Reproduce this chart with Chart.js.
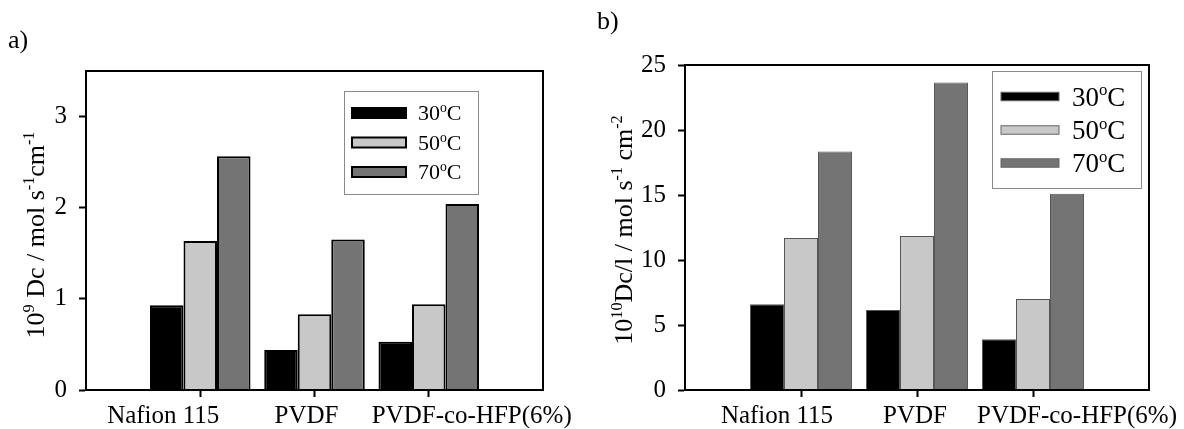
<!DOCTYPE html>
<html>
<head>
<meta charset="utf-8">
<script src="https://cdn.jsdelivr.net/npm/chart.js@4.4.1/dist/chart.umd.min.js"></script>
<style>
  body { margin: 0; background: #fff; }
  #wrap { position: relative; width: 1184px; height: 429px; font-family: 'Liberation Serif', 'Times New Roman', serif; }
  canvas { position: absolute; top: 0; }
  #chart-a { left: 0; }
  #chart-b { left: 592px; }
  .panel { position: absolute; font-size: 26px; line-height: 1; }
</style>
</head>
<body>
<div id="wrap">
  <canvas id="chart-a" width="592" height="429"></canvas>
  <canvas id="chart-b" width="592" height="429"></canvas>
  <div class="panel" style="left:8px;top:27px">a)</div>
  <div class="panel" style="left:597px;top:8px">b)</div>
</div>
<script>
const categories = ['Nafion 115', 'PVDF', 'PVDF-co-HFP(6%)'];
const temperatures = ['30', '50', '70'];

// panel a: 10^9 Dc
const dcT30 = [0.93, 0.44, 0.53];
const dcT50 = [1.635, 0.83, 0.94];
const dcT70 = [2.565, 1.65, 2.04];
const dcTicks = [0, 1, 2, 3];

// panel b: 10^10 Dc/l
const dclT30 = [6.6, 6.15, 3.9];
const dclT50 = [11.7, 11.85, 7.0];
const dclT70 = [18.35, 23.65, 15.1];
const dclTicks = [0, 5, 10, 15, 20, 25];

const barColors = ['#000000', '#c8c8c8', '#747474'];
const FONT = '"Liberation Serif", "Times New Roman", serif';

function fontOf(size) {
  return size + 'px ' + FONT;
}

// draws text pieces, some of them raised and smaller (superscripts)
function drawRich(ctx, segs, x, y, size) {
  segs.forEach(s => {
    const fs = s.sup ? size * 0.62 : size;
    ctx.font = fontOf(fs);
    ctx.fillText(s.t, x, s.sup ? y - size * 0.38 : y);
    x += ctx.measureText(s.t).width;
  });
}

function richWidth(ctx, segs, size) {
  let w = 0;
  segs.forEach(s => {
    ctx.font = fontOf(s.sup ? size * 0.62 : size);
    w += ctx.measureText(s.t).width;
  });
  return w;
}

const decorPlugin = {
  id: 'decor',
  afterDatasetsDraw(chart, args, opts) {
    const ctx = chart.ctx;
    const a = chart.chartArea;
    ctx.save();

    // box round the plot
    ctx.strokeStyle = '#000';
    ctx.lineWidth = 2;
    ctx.strokeRect(a.left, a.top, a.right - a.left, a.bottom - a.top);

    // category labels (the original has them nudged off the ticks)
    ctx.fillStyle = '#000';
    ctx.font = fontOf(25);
    ctx.textAlign = 'center';
    ctx.textBaseline = 'alphabetic';
    categories.forEach((c, i) => {
      const x = chart.scales.x.getPixelForValue(i + 1) + opts.labelShift[i];
      ctx.fillText(c, x, opts.labelY);
    });
    ctx.textAlign = 'left';

    // legend
    const L = opts.legend;
    ctx.fillStyle = '#fff';
    ctx.fillRect(L.x, L.y, L.w, L.h);
    ctx.strokeStyle = '#8a8a8a';
    ctx.lineWidth = 1;
    ctx.strokeRect(L.x + 0.5, L.y + 0.5, L.w, L.h);
    chart.data.datasets.forEach((ds, i) => {
      const cy = L.rows[i];
      ctx.fillStyle = ds.backgroundColor;
      ctx.fillRect(L.symX, cy - L.symH / 2, L.symW, L.symH);
      ctx.strokeStyle = L.symBorder;
      ctx.lineWidth = L.symBorderWidth;
      ctx.strokeRect(L.symX, cy - L.symH / 2, L.symW, L.symH);
      ctx.fillStyle = '#000';
      drawRich(ctx, [{ t: ds.label }, { t: 'o', sup: true }, { t: 'C' }], L.textX, cy + L.fontSize * 0.34, L.fontSize);
    });

    // rotated y title
    const T = opts.title;
    ctx.translate(T.x, T.y);
    ctx.rotate(-Math.PI / 2);
    ctx.fillStyle = '#000';
    const w = richWidth(ctx, T.segs, T.size);
    drawRich(ctx, T.segs, -w / 2, 0, T.size);
    ctx.restore();
  }
};

function makeDatasets(series, borderColor, borderWidth) {
  return series.map((vals, i) => ({
    label: temperatures[i],
    data: [null, ...vals, null],
    backgroundColor: barColors[i],
    borderColor: borderColor,
    borderWidth: borderWidth,
    categoryPercentage: 0.88,
    barPercentage: 1
  }));
}

function makeChart(id, series, yMax, yTicks, layout, barBorder, decor) {
  const ctx = document.getElementById(id).getContext('2d');
  return new Chart(ctx, {
    type: 'bar',
    data: {
      labels: ['', ...categories, ''],
      datasets: makeDatasets(series, barBorder.color, barBorder.width)
    },
    options: {
      responsive: false,
      animation: false,
      layout: { padding: layout.padding },
      plugins: {
        legend: { display: false },
        tooltip: { enabled: false },
        decor: decor
      },
      scales: {
        x: {
          offset: false,
          afterFit: s => { s.height = layout.xHeight; },
          border: { display: true, color: '#000', width: 2 },
          grid: {
            offset: false,
            drawOnChartArea: false,
            drawTicks: true,
            tickLength: 7,
            tickWidth: 2,
            tickColor: c => (c.index > 0 && c.index <= categories.length) ? '#000' : 'rgba(0,0,0,0)'
          },
          ticks: { display: false }
        },
        y: {
          min: 0,
          max: yMax,
          afterFit: s => { s.width = layout.yWidth; },
          afterBuildTicks: s => { s.ticks = yTicks.map(v => ({ value: v })); },
          border: { display: true, color: '#000', width: 2 },
          grid: {
            drawOnChartArea: false,
            drawTicks: true,
            tickLength: 7,
            tickWidth: 2,
            tickColor: '#000'
          },
          ticks: {
            color: '#000',
            font: { family: FONT, size: 25 },
            padding: 12
          }
        }
      }
    },
    plugins: [decorPlugin]
  });
}

makeChart('chart-a', [dcT30, dcT50, dcT70], 3.5, dcTicks,
  { padding: { top: 71, right: 49, left: 0, bottom: 0 }, xHeight: 39, yWidth: 86 },
  { color: '#000', width: 2 },
  {
    labelShift: [-37, -8, 43],
    labelY: 423,
    legend: { x: 344, y: 91, w: 134, h: 103, symX: 352, symW: 54, symH: 10, rows: [113, 142.5, 172],
      textX: 418, fontSize: 22, symBorder: '#000', symBorderWidth: 2 },
    title: { x: 44, y: 235, size: 26,
      segs: [{ t: '10' }, { t: '9', sup: true }, { t: ' Dc / mol s' }, { t: '-1', sup: true }, { t: 'cm' }, { t: '-1', sup: true }] }
  });

makeChart('chart-b', [dclT30, dclT50, dclT70], 25, dclTicks,
  { padding: { top: 65, right: 35, left: 0, bottom: 0 }, xHeight: 39, yWidth: 93 },
  { color: '#555', width: 1 },
  {
    labelShift: [-24, -2, 44],
    labelY: 423,
    legend: { x: 400, y: 71, w: 149, h: 117, symX: 409, symW: 58, symH: 8.5, rows: [96.5, 130, 163],
      textX: 480, fontSize: 27, symBorder: '#666', symBorderWidth: 1 },
    title: { x: 40, y: 230, size: 26,
      segs: [{ t: '10' }, { t: '10', sup: true }, { t: 'Dc/l / mol s' }, { t: '-1', sup: true }, { t: ' cm' }, { t: '-2', sup: true }] }
  });
</script>
</body>
</html>
